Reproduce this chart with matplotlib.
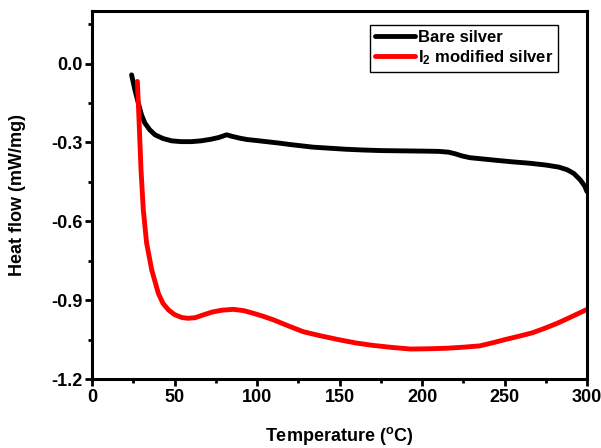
import matplotlib
matplotlib.use("Agg")
import matplotlib.pyplot as plt
from matplotlib.ticker import MultipleLocator

plt.rcParams['font.family'] = ['Liberation Sans', 'DejaVu Sans']
plt.rcParams['font.weight'] = 'bold'
plt.rcParams['mathtext.fontset'] = 'custom'
plt.rcParams['mathtext.rm'] = 'Liberation Sans:bold'
plt.rcParams['mathtext.bf'] = 'Liberation Sans:bold'
plt.rcParams['mathtext.default'] = 'rm'
plt.rcParams['axes.unicode_minus'] = False

# Data
bare_T = [24, 26, 28.1, 30, 32.1, 35, 38.2, 43, 48.3, 54, 60.4, 66, 72, 77, 81.6, 85, 89.7, 94, 100,
          107, 114, 120, 127, 134, 144, 154, 165, 175, 187, 200, 210, 216, 220, 224, 229, 237, 245,
          255, 265, 275, 283, 288, 292, 296, 298.5, 300]
bare_Y = [-0.043, -0.10, -0.151, -0.195, -0.227, -0.252, -0.271, -0.285, -0.294, -0.297, -0.297, -0.294,
          -0.288, -0.281, -0.271, -0.277, -0.284, -0.289, -0.293, -0.298, -0.303, -0.308, -0.313, -0.318,
          -0.322, -0.326, -0.329, -0.331, -0.332, -0.333, -0.334, -0.337, -0.343, -0.351, -0.358, -0.363,
          -0.368, -0.374, -0.379, -0.386, -0.394, -0.404, -0.418, -0.443, -0.465, -0.487]

mod_T = [27.5, 28.5, 29.7, 31.1, 33.1, 36.2, 40.2, 43, 46.3, 50, 54.4, 58, 62.4, 67.5, 73, 79, 85.7,
         92, 97.8, 104, 110, 119, 128, 138, 150, 160, 170, 182, 193, 204, 215, 225, 235, 243, 251,
         259, 267, 274, 282, 290, 300]
mod_Y = [-0.068, -0.214, -0.404, -0.557, -0.683, -0.785, -0.874, -0.912, -0.937, -0.955, -0.966,
         -0.969, -0.967, -0.956, -0.945, -0.938, -0.935, -0.940, -0.950, -0.962, -0.975, -0.998,
         -1.020, -1.035, -1.051, -1.063, -1.072, -1.080, -1.086, -1.085, -1.083, -1.079, -1.074,
         -1.062, -1.049, -1.037, -1.024, -1.008, -0.988, -0.965, -0.935]

x_ticks = [0, 50, 100, 150, 200, 250, 300]
y_ticks = [0.0, -0.3, -0.6, -0.9, -1.2]
y_tick_labels = ['0.0', '-0.3', '-0.6', '-0.9', '-1.2']
series_labels = ['Bare silver', r'I$_2$ modified silver']

fig = plt.figure(figsize=(6.01, 4.48), dpi=100)
ax = fig.add_axes([92/601, (448-379)/448, (587-92)/601, (379-11)/448])

ax.plot(bare_T, bare_Y, color='black', lw=3.5, solid_capstyle='round', solid_joinstyle='round',
        label=series_labels[0])
ax.plot(mod_T, mod_Y, color='#ff0000', lw=3.5, solid_capstyle='round', solid_joinstyle='round',
        label=series_labels[1])

ax.set_xlim(0, 300)
ax.set_ylim(-1.2, 0.2)
ax.set_xticks(x_ticks)
ax.set_xticklabels([str(t) for t in x_ticks])
ax.set_yticks(y_ticks)
ax.set_yticklabels(y_tick_labels)
ax.xaxis.set_minor_locator(MultipleLocator(25))
ax.yaxis.set_minor_locator(MultipleLocator(0.15))

for s in ax.spines.values():
    s.set_linewidth(2.2)
ax.tick_params(which='major', direction='out', length=5, width=2, labelsize=13)
ax.tick_params(axis='x', which='major', pad=2)
ax.tick_params(axis='y', which='major', pad=2)
ax.tick_params(which='minor', direction='out', length=3, width=2)
for lab in ax.get_xticklabels() + ax.get_yticklabels():
    lab.set_fontweight('bold')

ax.set_xlabel(r'Temperature ($^\mathrm{o}$C)', fontsize=13, fontweight='bold', labelpad=14)
ax.set_ylabel('Heat flow (mW/mg)', fontsize=13, fontweight='bold', labelpad=18)

leg = ax.legend(loc='upper right', bbox_to_anchor=((558-92)/495, (379-25)/368),
                fancybox=False, edgecolor='black', framealpha=1, fontsize=12,
                handlelength=2.4, handletextpad=0.15, borderpad=0.3, labelspacing=0.2,
                borderaxespad=0)
leg.get_frame().set_linewidth(1.0)
for t in leg.get_texts():
    t.set_fontweight('bold')

fig.savefig('out.png', dpi=100)
